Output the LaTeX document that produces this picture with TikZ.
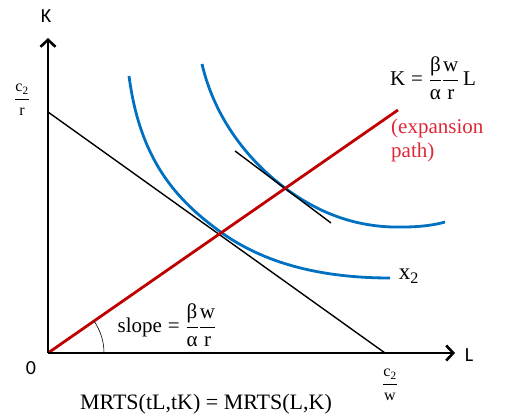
\documentclass[tikz,border=0pt]{standalone}
\usepackage{amsmath}
\usepackage{fontspec}
\setmainfont{Liberation Serif}
\newfontfamily\sansf{Carlito}
\usetikzlibrary{arrows.meta}
\definecolor{curveblue}{RGB}{0,112,192}
\definecolor{pathred}{RGB}{192,0,0}
\definecolor{labelred}{RGB}{222,40,55}
\newcommand{\tx}[1]{\text{#1}}
\tikzset{
  axis/.style={line width=2.6pt, -{Straight Barb[length=7pt,width=15pt]}},
  isoquant/.style={curveblue, line width=2.8pt},
  budget/.style={black, line width=1.4pt},
  exppath/.style={pathred, line width=2.8pt},
  axlabel/.style={font=\sansf\fontsize{20}{24}\selectfont, inner sep=0pt},
  mlabel/.style={font=\fontsize{21}{24}\selectfont, inner sep=0pt},
  slabel/.style={font=\fontsize{16}{18}\selectfont, inner sep=0pt},
}
\begin{document}
\begin{tikzpicture}[x=1pt,y=-1pt]
\useasboundingbox (0,0) rectangle (506,419);
% key points
\coordinate (O) at (48,353);
\coordinate (Ktip) at (48,38);
\coordinate (Ltip) at (455,353);
\coordinate (B1) at (48,112);
\coordinate (B2) at (385,353);
\coordinate (E) at (398,110);
\coordinate (T1) at (235,151);
\coordinate (T2) at (331,223);
% isoquants
\draw[isoquant] (129,76) .. controls (140,160) and (176,200) .. (222,233)
  .. controls (270,267) and (330,278) .. (390,278);
\draw[isoquant] (202,64) .. controls (215,120) and (250,162) .. (285,188)
  .. controls (325,218) and (365,228) .. (403,227)
  .. controls (420,227) and (435,225) .. (445,222);
% budget line and tangent
\draw[budget] (B1) -- (B2);
\draw[budget] (T1) -- (T2);
% expansion path
\draw[exppath] (O) -- (E);
% angle arc
\draw[black, line width=0.6pt] (104,353) arc[start angle=0, end angle=-35, radius=56];
% axes
\draw[axis] (O) -- (Ktip);
\draw[axis] (O) -- (Ltip);
% labels
\node[axlabel] (Klab) at (46,16) {K};
\node[axlabel] (Llab) at (469,355) {L};
\node[axlabel] (Olab) at (31,368) {0};
\node[slabel] (c2r) at (22,100) {$\dfrac{\tx{c}_{\tx{2}}}{\tx{r}}$};
\node[slabel] (c2w) at (390,385) {$\dfrac{\tx{c}_{\tx{2}}}{\tx{w}}$};
\node[mlabel] (x2) at (409,276) {\fontsize{23}{26}\selectfont$\tx{x}_{\tx{2}}$};
\node[mlabel] (eq) at (433,78) {$\tx{K}\;\tx{=}\;\dfrac{\tx{β}}{\tx{α}}\dfrac{\tx{w}}{\tx{r}}\,\tx{L}$};
\node[mlabel, text=labelred, align=left, anchor=north west] (exp) at (391,119) {(expansion\\path)};
\node[mlabel] (slope) at (167,325) {$\tx{slope}\;\tx{=}\;\dfrac{\tx{β}}{\tx{α}}\dfrac{\tx{w}}{\tx{r}}$};
\node[mlabel] (mrts) at (206,404) {\fontsize{22}{24}\selectfont MRTS(tL,tK) = MRTS(L,K)};
\end{tikzpicture}
\end{document}
